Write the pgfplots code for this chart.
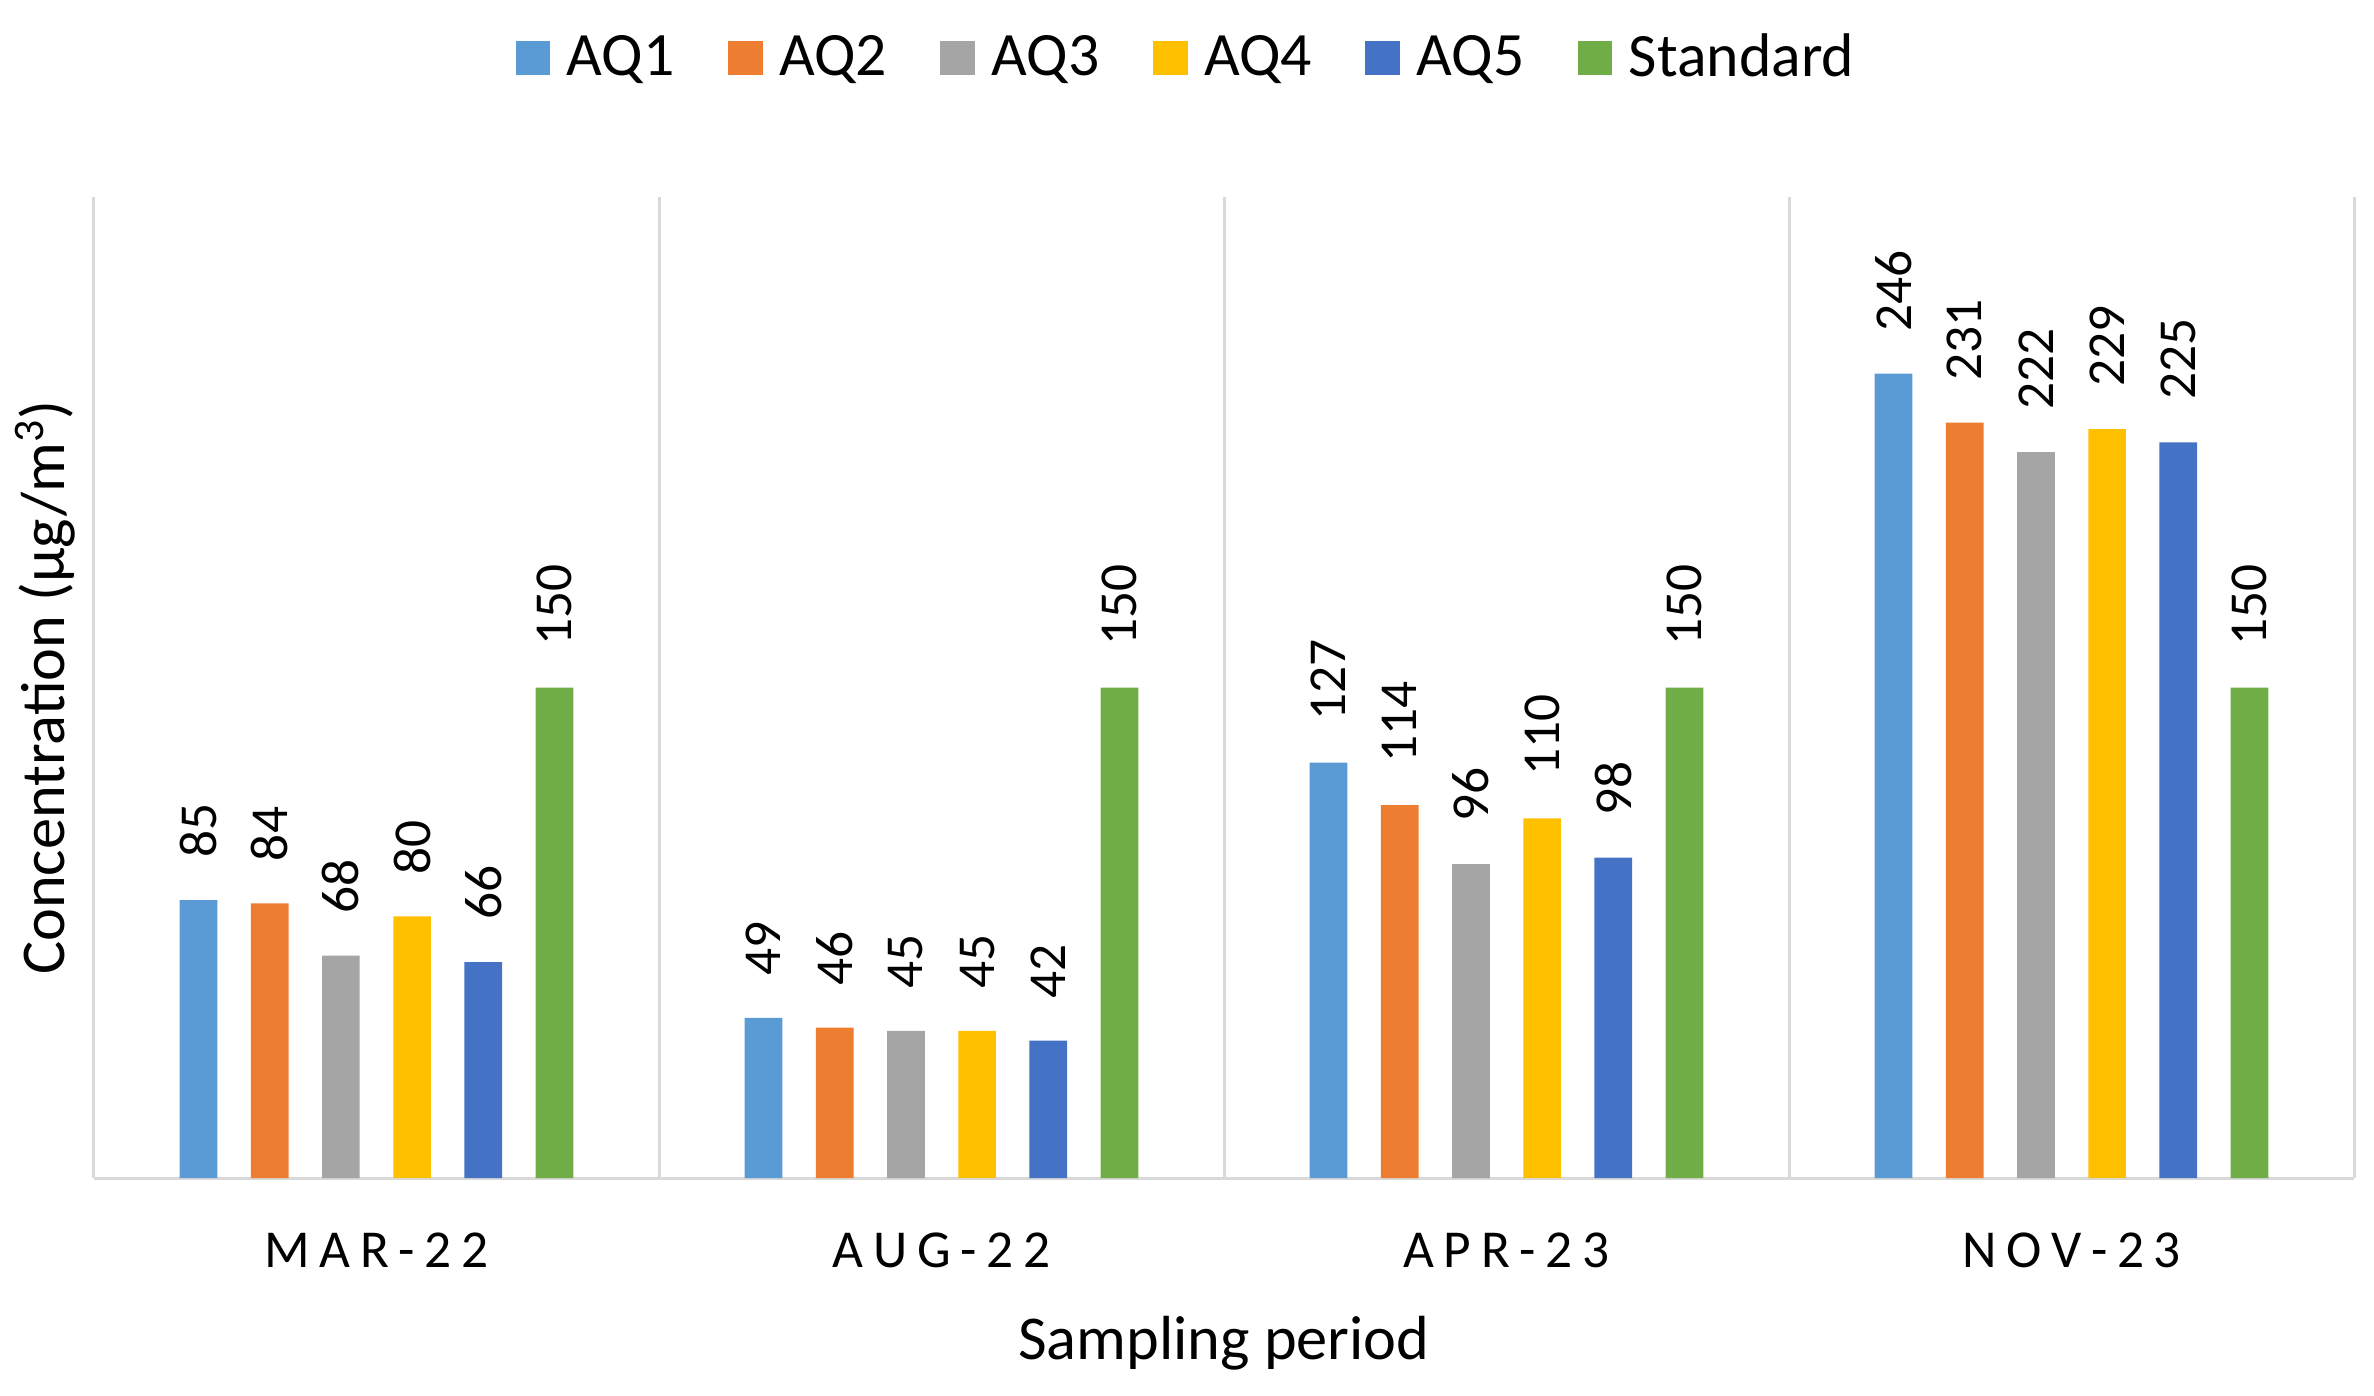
\documentclass[border=0pt]{standalone}
\usepackage{pgfplots}
\pgfplotsset{compat=1.18}
\usepackage{fontspec}
\setmainfont{Carlito}

\definecolor{cAQone}{HTML}{5B9BD5}
\definecolor{cAQtwo}{HTML}{ED7D31}
\definecolor{cAQthree}{HTML}{A5A5A5}
\definecolor{cAQfour}{HTML}{FFC000}
\definecolor{cAQfive}{HTML}{4472C4}
\definecolor{cStd}{HTML}{70AD47}
\definecolor{gridgray}{HTML}{D9D9D9}

% spaced capitals for the period labels
\newcommand{\ls}{\kern2.9pt}

\begin{document}
\begin{tikzpicture}
\path[use as bounding box] (-28.2pt,-65.1pt) rectangle (684pt,353.4pt);
\begin{axis}[
  at={(0,0)}, anchor=south west,
  scale only axis,
  width=678pt, height=294.3pt,
  ybar,
  xmin=-0.5, xmax=3.5,
  ymin=0, ymax=300,
  xtick={0,1,2,3},
  xticklabels={M\ls A\ls R\ls -\ls 2\ls 2, A\ls U\ls G\ls -\ls 2\ls 2, A\ls P\ls R\ls -\ls 2\ls 3, N\ls O\ls V\ls -\ls 2\ls 3},
  xticklabel style={anchor=base, yshift=-26.7pt, font=\fontsize{16}{19}\selectfont},
  major tick length=0pt,
  minor tick length=0pt,
  ytick=\empty,
  minor xtick={-0.5,0.5,1.5,2.5,3.5},
  xminorgrids,
  minor grid style={draw=gridgray, line width=0.9pt},
  axis x line*=bottom,
  axis y line*=left,
  axis line style={draw=gridgray, line width=0.9pt, -},
  xlabel={Sampling period},
  xlabel style={at={(axis description cs:0.5,0)}, anchor=center, yshift=-49.5pt, font=\fontsize{18.7}{22}\selectfont},
  ylabel={Concentration (µg/m\textsuperscript{3})},
  ylabel style={at={(axis description cs:-0.0217,0.5)}, anchor=center, font=\fontsize{18.7}{22}\selectfont},
  /pgf/number format/assume math mode=true,
  nodes near coords,
  nodes near coords style={rotate=90, anchor=west, inner xsep=12.5pt, inner ysep=0pt, font=\fontsize{16}{19}\selectfont, text=black},
  bar width=0.0667,
  clip=false,
  legend columns=6,
  legend style={
    at={(axis description cs:0.4827,1.1417)}, anchor=center,
    draw=none, fill=none,
    font=\fontsize{18.5}{22}\selectfont,
    /tikz/every odd column/.append style={column sep=5pt},
    /tikz/every even column/.append style={column sep=16pt},
    nodes={inner sep=0pt},
  },
  legend image code/.code={\fill[#1, draw=none] (0pt,-5.1pt) rectangle (10.4pt,5.1pt);},
]
\addplot[fill=cAQone, draw=none, bar shift=-0.315] coordinates {(0,85) (1,49) (2,127) (3,246)};
\addplot[fill=cAQtwo, draw=none, bar shift=-0.189] coordinates {(0,84) (1,46) (2,114) (3,231)};
\addplot[fill=cAQthree, draw=none, bar shift=-0.063] coordinates {(0,68) (1,45) (2,96) (3,222)};
\addplot[fill=cAQfour, draw=none, bar shift=0.063] coordinates {(0,80) (1,45) (2,110) (3,229)};
\addplot[fill=cAQfive, draw=none, bar shift=0.189] coordinates {(0,66) (1,42) (2,98) (3,225)};
\addplot[fill=cStd, draw=none, bar shift=0.315] coordinates {(0,150) (1,150) (2,150) (3,150)};
\legend{AQ1, AQ2, AQ3, AQ4, AQ5, Standard}
\end{axis}
\end{tikzpicture}
\end{document}
